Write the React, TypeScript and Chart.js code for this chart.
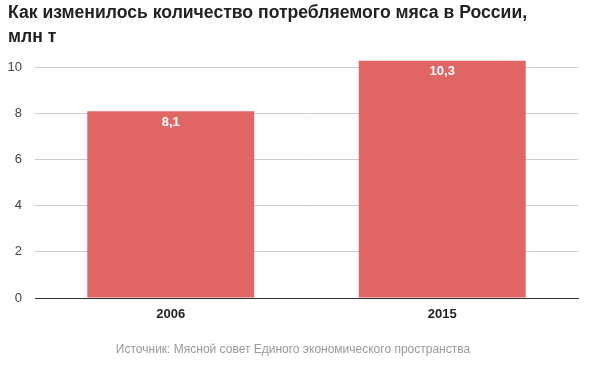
import React, { useEffect, useRef } from "react";
import { Chart, registerables } from "chart.js";

Chart.register(...registerables);

const categories = ["2006", "2015"];
const values = [8.1, 10.3];
const valueLabels = ["8,1", "10,3"];
const yTicks = [0, 2, 4, 6, 8, 10];
const titleLines = ["Как изменилось количество потребляемого мяса в России,", "млн т"];
const sourceText = "Источник: Мясной совет Единого экономического пространства";

const FONT = "'Liberation Sans', Arial, sans-serif";

const barLabelPlugin = {
  id: "barLabels",
  afterDatasetsDraw(chart: any) {
    const ctx = chart.ctx;
    const meta = chart.getDatasetMeta(0);
    ctx.save();
    ctx.fillStyle = "#ffffff";
    ctx.font = `bold 13px ${FONT}`;
    ctx.textAlign = "center";
    ctx.textBaseline = "middle";
    meta.data.forEach((bar: any, i: number) => {
      ctx.fillText(valueLabels[i], bar.x, bar.y + 11);
    });
    ctx.restore();
  },
};

export default function App() {
  const ref = useRef<HTMLCanvasElement | null>(null);
  useEffect(() => {
    if (!ref.current) return;
    const chart = new Chart(ref.current, {
      type: "bar",
      data: {
        labels: categories,
        datasets: [
          {
            data: values,
            backgroundColor: "#e06666",
            barPercentage: 0.615,
            categoryPercentage: 1,
          },
        ],
      },
      options: {
        animation: false,
        responsive: false,
        layout: { padding: { left: 8, right: 23, top: 0, bottom: 0 } },
        plugins: {
          legend: { display: false },
          tooltip: { enabled: false },
          title: {
            display: true,
            text: titleLines,
            align: "start",
            color: "#222222",
            font: { family: FONT, size: 17.6, weight: "bold", lineHeight: 1.32 },
            padding: { top: 2, bottom: 12 },
          },
          subtitle: {
            display: true,
            text: sourceText,
            position: "bottom",
            color: "#999999",
            font: { family: FONT, size: 12, lineHeight: 1.2 },
            padding: { top: 11, bottom: 13 },
          },
        },
        scales: {
          x: {
            grid: { display: false, drawTicks: false },
            border: { display: true, color: "#333333", width: 1 },
            ticks: {
              color: "#222222",
              font: { family: FONT, size: 13, weight: "bold" },
              padding: 9,
            },
          },
          y: {
            min: 0,
            max: 10.3,
            afterBuildTicks(axis: any) {
              axis.ticks = yTicks.map((v) => ({ value: v }));
            },
            afterFit(axis: any) {
              axis.width = 27;
            },
            grid: { color: "#cccccc", drawTicks: false },
            border: { display: false },
            ticks: {
              color: "#444444",
              font: { family: FONT, size: 13 },
              padding: 13,
            },
          },
        },
      },
      plugins: [barLabelPlugin],
    });
    return () => chart.destroy();
  }, []);
  return (
    <div style={{ position: "fixed", left: 0, top: 0, width: 601, height: 370, background: "#fff" }}>
      <canvas ref={ref} width={601} height={370} style={{ width: 601, height: 370 }} />
    </div>
  );
}
